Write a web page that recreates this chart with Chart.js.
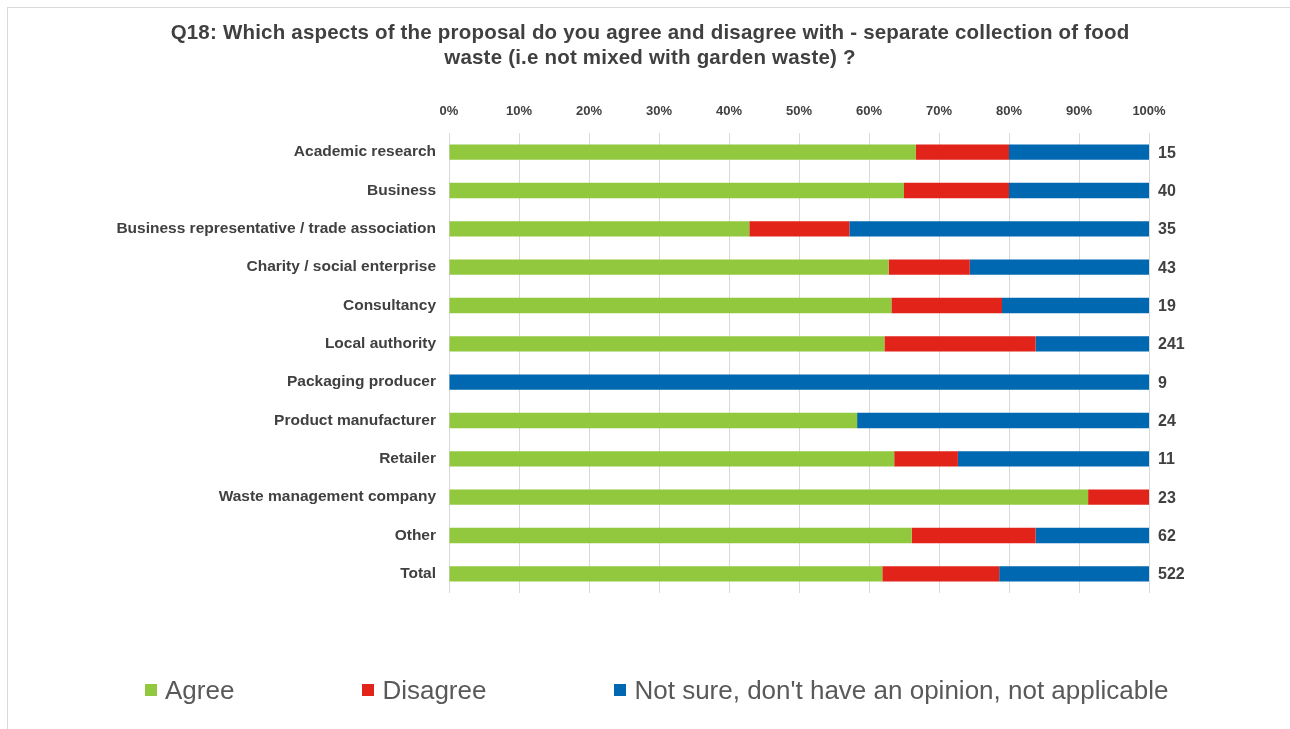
<!DOCTYPE html>
<html>
<head>
<meta charset="utf-8">
<script src="https://cdn.jsdelivr.net/npm/chart.js@4.4.1/dist/chart.umd.min.js"></script>
<style>
  html, body { margin: 0; padding: 0; background: #fff; }
  #page { position: relative; width: 1290px; height: 729px; overflow: hidden; }
  #frame { position: absolute; left: 7px; top: 7px; right: 0; bottom: 0;
           border-top: 1px solid #d9d9d9; border-left: 1px solid #d9d9d9; }
  #title { position: absolute; left: 10px; width: 1280px; top: 19px; text-align: center;
           font: bold 20.5px "Liberation Sans", Arial, sans-serif; letter-spacing: 0.2px;
           color: #404040; line-height: 25px; }
  #chart { position: absolute; left: 0; top: 0; }
  #legend { position: absolute; left: 145px; top: 674px; display: flex; gap: 128px;
            font: 26px "Liberation Sans", Arial, sans-serif; color: #595959; line-height: 32px; }
  .item { display: flex; align-items: center; white-space: nowrap; }
  .sw { width: 12px; height: 12px; margin-right: 8px; }
</style>
</head>
<body>
<div id="page">
  <div id="frame"></div>
  <canvas id="chart" width="1290" height="729"></canvas>
  <div id="title">Q18: Which aspects of the proposal do you agree and disagree with - separate collection of food<br>waste (i.e not mixed with garden waste) ?</div>
  <div id="legend"></div>
</div>
<script>
// Respondent groups
const categories = [
  "Academic research",
  "Business",
  "Business representative / trade association",
  "Charity / social enterprise",
  "Consultancy",
  "Local authority",
  "Packaging producer",
  "Product manufacturer",
  "Retailer",
  "Waste management company",
  "Other",
  "Total"
];

// Share of responses per group (%)
const agree    = [66.7, 65.0, 42.9, 62.8, 63.2, 62.2, 0,   58.3, 63.6, 91.3, 66.1, 61.9];
const disagree = [13.3, 15.0, 14.3, 11.6, 15.8, 21.6, 0,   0,    9.1,  8.7, 17.7, 16.7];
const notSure  = [20.0, 20.0, 42.8, 25.6, 21.0, 16.2, 100, 41.7, 27.3, 0,   16.2, 21.4];

// Number of respondents per group
const totals = [15, 40, 35, 43, 19, 241, 9, 24, 11, 23, 62, 522];

const seriesNames = ["Agree", "Disagree", "Not sure, don't have an opinion, not applicable"];
const seriesColors = ["#92C83E", "#E2231A", "#0067B1"];

const FONT = '"Liberation Sans", Arial, sans-serif';
const TEXT = "#404040";

// Respondent counts printed to the right of each bar
const totalsPlugin = {
  id: "totals",
  afterDatasetsDraw(chart) {
    const { ctx, chartArea, scales } = chart;
    ctx.save();
    ctx.font = "bold 16px " + FONT;
    ctx.fillStyle = TEXT;
    ctx.textAlign = "left";
    ctx.textBaseline = "middle";
    totals.forEach((n, i) => {
      ctx.fillText(String(n), chartArea.right + 9, scales.y.getPixelForValue(i) + 1);
    });
    ctx.restore();
  }
};

const values = [agree, disagree, notSure];
const chart = new Chart(document.getElementById("chart"), {
  type: "bar",
  data: {
    labels: categories,
    datasets: values.map((v, k) => ({
      label: seriesNames[k],
      data: v,
      backgroundColor: seriesColors[k],
      borderWidth: 0,
      categoryPercentage: 1,
      barPercentage: 0.4
    }))
  },
  options: {
    indexAxis: "y",
    responsive: false,
    animation: false,
    layout: { padding: { left: 0, right: 141, top: 0, bottom: 136 } },
    plugins: {
      legend: { display: false },
      title: { display: false },
      tooltip: { enabled: false }
    },
    scales: {
      x: {
        position: "top",
        stacked: true,
        min: 0,
        max: 100,
        afterFit(scale) { scale.height = 133; },
        ticks: {
          stepSize: 10,
          padding: 14,
          color: TEXT,
          font: { family: FONT, size: 13, weight: "bold" },
          callback: v => v + "%"
        },
        grid: { color: "#d9d9d9", drawTicks: false },
        border: { display: false }
      },
      y: {
        stacked: true,
        afterFit(scale) { scale.width = 449; },
        ticks: {
          padding: 13,
          color: TEXT,
          font: { family: FONT, size: 15.5, weight: "bold" }
        },
        grid: { display: false, drawTicks: false },
        border: { display: false }
      }
    }
  },
  plugins: [totalsPlugin]
});

// Legend row built from the dataset names and colours
const legend = document.getElementById("legend");
seriesNames.forEach((name, k) => {
  const item = document.createElement("div");
  item.className = "item";
  const sw = document.createElement("span");
  sw.className = "sw";
  sw.style.background = seriesColors[k];
  const label = document.createElement("span");
  label.textContent = name;
  item.appendChild(sw);
  item.appendChild(label);
  legend.appendChild(item);
});
</script>
</body>
</html>
